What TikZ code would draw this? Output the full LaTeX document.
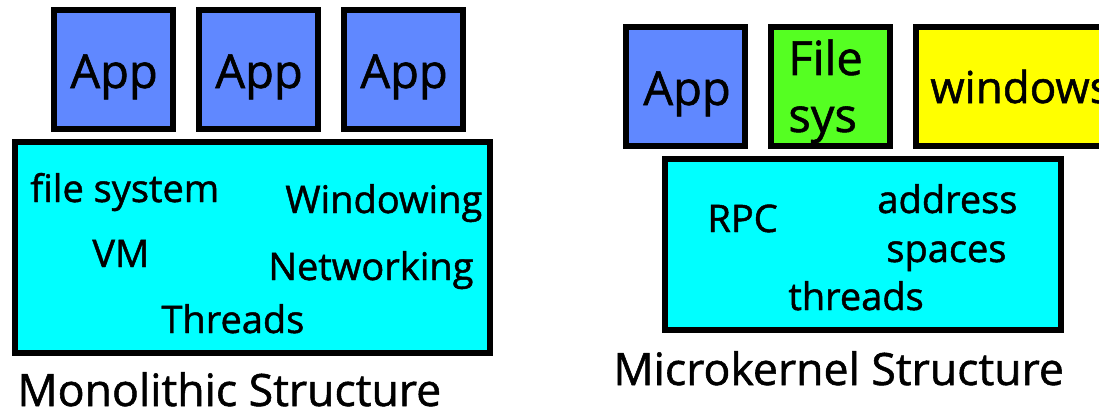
\documentclass[tikz,border=0pt]{standalone}
\usepackage{fontspec}
\setmainfont[FakeBold=1.2,AutoFakeBold=1.2]{Open Sans}
\usetikzlibrary{positioning}
\definecolor{AppBlue}{HTML}{6088FF}
\definecolor{FsGreen}{HTML}{55FF22}
\definecolor{WinYellow}{HTML}{FFFF00}
\definecolor{KernCyan}{HTML}{00FFFF}
\tikzset{
  layerbox/.style={draw=black, line width=3pt, fill=#1, inner sep=0pt},
  layerbox/.default={KernCyan},
  appbox/.style={layerbox=#1, minimum width=59.5pt, minimum height=59.5pt},
  appbox/.default={AppBlue},
  svc/.style={anchor=base west, inner sep=0pt, font=\fontsize{19}{22}\selectfont\bfseries},
  apptxt/.style={anchor=base west, inner sep=0pt, font=\fontsize{23.5}{28}\selectfont\bfseries},
  caption/.style={anchor=base west, inner sep=0pt, font=\fontsize{22.3}{26}\selectfont\bfseries},
}
\begin{document}
\begin{tikzpicture}[x=0.5pt, y=-0.5pt]
  \useasboundingbox (0,0) rectangle (1099,412);
  \clip (0,0) rectangle (1099,412);
  % monolithic kernel
  \node[appbox] (app1) at (113.5,69.5) {};
  \node[appbox, right=10pt of app1] (app2) {};
  \node[appbox, right=10pt of app2] (app3) {};
  \node[layerbox, minimum width=237.5pt, minimum height=105.5pt] (monokern) at (252.5,247.5) {};
  \node[apptxt] (app1txt) at (70,88) {App};
  \node[apptxt] (app2txt) at (215,88) {App};
  \node[apptxt] (app3txt) at (360,88) {App};
  \node[svc] (fsys) at (30,202) {file system};
  \node[svc] (win) at (285,213) {Windowing};
  \node[svc] (vm) at (92,267) {VM};
  \node[svc] (net) at (268,280) {Networking};
  \node[svc] (thr) at (161,333) {Threads};
  \node[caption] (monocap) at (17,406) {Monolithic Structure};
  % microkernel
  \node[appbox] (uapp) at (685.5,86.5) {};
  \node[appbox=FsGreen, right=10pt of uapp] (ufs) {};
  \node[layerbox=WinYellow, minimum width=100pt, minimum height=59.5pt, right=10pt of ufs] (uwin) {};
  \node[layerbox, minimum width=198pt, minimum height=85.5pt] (microkern) at (863,244.5) {};
  \node[apptxt] (uapptxt) at (643,105) {App};
  \node[apptxt] (ufstxt1) at (788,75) {File};
  \node[apptxt] (ufstxt2) at (788,132) {sys};
  \node[apptxt, font=\fontsize{22}{26}\selectfont\bfseries] (uwintxt) at (930,103) {windows};
  \node[svc] (rpc) at (707,232) {RPC};
  \node[svc] (addr) at (877,213) {address};
  \node[svc] (spc) at (886,262) {spaces};
  \node[svc] (uthr) at (788,310) {threads};
  \node[caption] (microcap) at (613,385) {Microkernel Structure};
\end{tikzpicture}
\end{document}
